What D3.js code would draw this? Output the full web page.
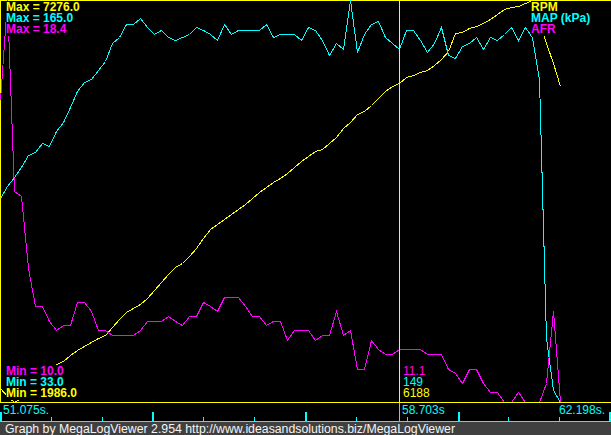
<!DOCTYPE html>
<html><head><meta charset="utf-8">
<script src="https://cdn.jsdelivr.net/npm/d3@7"></script>
<style>
html,body{margin:0;padding:0;background:#000;overflow:hidden}
svg{display:block}
text{font-family:"Liberation Sans",Arial,sans-serif}
</style></head>
<body>
<script>
// ---- data ----
const seriesNames = ["RPM", "MAP (kPa)", "AFR"];
const rpm = [2170,2065,1986,2039,2144,2249,2341,2420,2486,2526,2604,2670,2723,2776,2828,2868,2973,3078,3170,3223,
  3276,3355,3460,3565,3670,3762,3815,3907,4012,4144,4263,4328,4394,4460,4526,4591,4670,4749,4815,4881,
  4934,4999,5078,5157,5223,5289,5315,5394,5473,5592,5671,5776,5815,5894,5986,6078,6144,6188,6263,6289,
  6328,6355,6421,6500,6605,6842,6855,6907,6934,6973,7026,7092,7157,7184,7197,7236,7276,6986,6710,6447,6144];
const map = [100,104,107,110,114,115,118,117,122,125,130,135,138,139,142,145,151,153,157,157,
  159,156,154,155,153,152,153,154,156,155,154,152,157,154,155,155,155,155,157,153,
  154,154,154,152,156,155,152,147,151,149,165,148,154,157,158,153,151,149,155,155,
  152,148,151,156,147,146,150,151,153,149,153,152,154,156,152,156,153,139,54,37,33];
const afr = [16.3,18.4,14.4,14.3,12.8,12.0,12.0,11.7,11.5,11.6,11.6,12.1,12.1,11.9,11.5,11.5,11.4,11.4,11.4,11.4,
  11.5,11.7,11.7,11.7,11.8,11.7,11.6,11.8,11.8,12.1,12.0,11.9,12.2,12.2,12.2,12.0,11.8,11.8,11.6,11.7,
  11.7,11.3,11.5,11.5,11.5,11.3,11.4,11.4,11.9,11.4,11.5,10.7,10.7,11.3,11.1,11.0,11.0,11.1,11.1,11.1,
  11.1,11.0,11.0,11.0,10.7,10.6,10.4,10.7,10.7,10.4,10.2,10.2,10.0,10.0,10.2,10.0,10.0,10.0,10.4,11.9,10.0];
const rpmRange = [1986.0, 7276.0];
const mapRange = [33.0, 165.0];
const afrRange = [10.0, 18.4];
const timeStart = 51.075, timeEnd = 62.198;
const sampleInterval = 0.1276;           // seconds between log records
const cursorIndex = 57;                  // record under the cursor
const timeLabels = ["51.075s.", "58.703s", "62.198s."];
const footerText = "Graph by MegaLogViewer 2.954 http://www.ideasandsolutions.biz/MegaLogViewer";

// ---- layout ----
const W = 611, H = 435;
const plotBottom = 402, axisBase = 421, footerTop = 422;
const YEL = "#ffff00", CYA = "#00ffff", MAG = "#ff00ff";

const svg = d3.select("body").append("svg").attr("width", W).attr("height", H);
svg.append("rect").attr("width", W).attr("height", H).attr("fill", "#000");

const x = d3.scaleLinear().domain([timeStart, timeEnd]).range([0, 610]);
const times = rpm.map((_, i) => timeStart + i * sampleInterval);
const yR = d3.scaleLinear().domain(rpmRange).range([plotBottom, 0]);
const yM = d3.scaleLinear().domain(mapRange).range([plotBottom, 0]);
const yA = d3.scaleLinear().domain(afrRange).range([plotBottom, 0]);

const g = svg.append("g");
// borders
g.append("line").attr("x1", 0).attr("x2", W).attr("y1", 0.5).attr("y2", 0.5).attr("stroke", YEL);
g.append("line").attr("x1", 0.5).attr("x2", 0.5).attr("y1", 0).attr("y2", plotBottom).attr("stroke", YEL);

function drawSeries(vals, y, color) {
  const line = d3.line().x((d, i) => Math.round(x(times[i])) + 0.5).y(d => Math.round(y(d)) + 0.5);
  g.append("path").attr("d", line(vals)).attr("fill", "none").attr("stroke", color)
    .attr("stroke-width", 1).attr("shape-rendering", "crispEdges");
}
drawSeries(rpm, yR, YEL);
drawSeries(map, yM, CYA);
drawSeries(afr, yA, MAG);

// cursor
const cx = Math.round(x(times[cursorIndex])) + 0.5;
g.append("line").attr("x1", cx).attr("x2", cx).attr("y1", 0).attr("y2", plotBottom)
  .attr("stroke", "#c8e8e0").attr("shape-rendering", "crispEdges");
g.append("line").attr("x1", cx).attr("x2", cx).attr("y1", plotBottom).attr("y2", axisBase)
  .attr("stroke", CYA).attr("shape-rendering", "crispEdges");

// bottom plot border
g.append("line").attr("x1", 0).attr("x2", W).attr("y1", plotBottom + 0.5).attr("y2", plotBottom + 0.5).attr("stroke", YEL);

// labels with black backgrounds
function label(tx, ty, txt, color, bold, bg) {
  const t = g.append("text").attr("x", tx).attr("y", ty).attr("fill", color)
    .attr("font-size", 12).attr("font-weight", bold ? "bold" : "normal").text(txt);
  if (bg) {
    const b = t.node().getBBox();
    g.insert("rect", () => t.node()).attr("x", b.x).attr("y", b.y + 1).attr("width", b.width).attr("height", b.height - 1).attr("fill", "#000");
  }
  return t;
}
const fmt1 = d3.format(".1f");
label(6, 11, "Max = " + fmt1(rpmRange[1]), YEL, true, true);
label(6, 22, "Max = " + fmt1(mapRange[1]), CYA, true, true);
label(6, 33, "Max = " + fmt1(afrRange[1]), MAG, true, true);
label(6, 375, "Min = " + fmt1(afrRange[0]), MAG, true, true);
label(6, 386, "Min = " + fmt1(mapRange[0]), CYA, true, true);
label(6, 397, "Min = " + fmt1(rpmRange[0]), YEL, true, true);
label(531, 11, seriesNames[0], YEL, true, true);
label(531, 22, seriesNames[1], CYA, true, true);
label(531, 33, seriesNames[2], MAG, true, true);
label(cx + 3.5, 375, fmt1(afr[cursorIndex]), MAG, false, true);
label(cx + 3.5, 386, String(map[cursorIndex]), CYA, false, true);
label(cx + 3.5, 397, String(rpm[cursorIndex]), YEL, false, true);

// time axis
g.append("line").attr("x1", 0).attr("x2", W).attr("y1", axisBase + 0.5).attr("y2", axisBase + 0.5).attr("stroke", CYA);
const ticks = d3.range(13).map(k => timeStart + k * (timeEnd - timeStart) / 12);
ticks.forEach((t, k) => {
  const major = k % 3 === 0;
  const px = Math.min(Math.round(x(t)), W - 2);
  g.append("rect").attr("x", px).attr("y", major ? axisBase - 9 : axisBase - 4)
    .attr("width", major ? 2 : 1).attr("height", major ? 10 : 5).attr("fill", CYA);
});
label(3, 414, timeLabels[0], CYA, false, false);
label(cx + 2.5, 414, timeLabels[1], CYA, false, false);
label(559, 414, timeLabels[2], CYA, false, false);

// footer
svg.append("rect").attr("x", 0).attr("y", footerTop).attr("width", W).attr("height", H - footerTop).attr("fill", "#404040");
svg.append("text").attr("x", 5).attr("y", 432.5).attr("fill", "#f4f4f4").attr("font-size", 12.3)
  .attr("font-family", "Liberation Sans, Arial, sans-serif").text(footerText);
</script>
</body></html>
